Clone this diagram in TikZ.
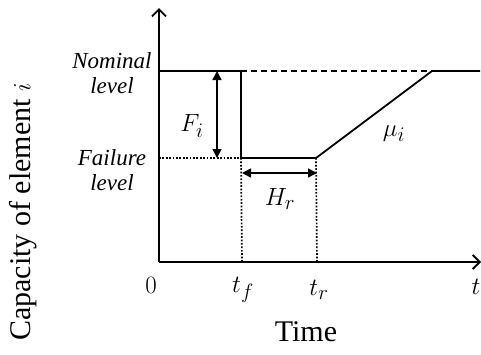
\documentclass[tikz,border=0pt]{standalone}
\usepackage{fontspec}
\setmainfont{Liberation Serif}
\usetikzlibrary{arrows.meta}
\begin{document}
\begin{tikzpicture}[x=1pt,y=-1pt,
  axis/.style={line width=1.8pt,-{Straight Barb[length=7pt,width=14pt,line width=1.8pt]}},
  curve/.style={line width=1.8pt},
  dsh/.style={line width=1.5pt,dash pattern=on 6pt off 4pt},
  dts/.style={line width=1.7pt,dash pattern=on 1.7pt off 1.7pt},
  dim/.style={line width=1.6pt,{Triangle[length=9pt,width=9pt]}-{Triangle[length=9pt,width=9pt]}},
  lvl/.style={font=\itshape\fontsize{23}{25}\selectfont,align=center},
  mlab/.style={font=\fontsize{31}{33}\selectfont},
  big/.style={font=\fontsize{30}{34}\selectfont}]
\useasboundingbox (0,0) rectangle (481,354);
\coordinate (O) at (159,262);
\coordinate (ytop) at (159,8);
\coordinate (xend) at (481,262);
\coordinate (n0) at (159,71);
\coordinate (nf) at (241,71);
\coordinate (ff) at (241,158);
\coordinate (f0) at (159,158);
\coordinate (fr) at (316,158);
\coordinate (nr) at (432,71);
\coordinate (nend) at (480,71);
\coordinate (tf) at (242,262);
\coordinate (tr) at (317,262);
\coordinate (Ftop) at (217,71);
\coordinate (Fbot) at (217,158);
\coordinate (Hl) at (242,173);
\coordinate (Hr) at (317,173);
% axes
\draw[axis] (O) -- (ytop);
\draw[axis] (O) -- (xend);
% levels
\draw[dsh] (nf) -- (nr);
\draw[dts] (f0) -- (ff);
\draw[curve,line join=miter] (n0) -- (nf) -- (ff) -- (fr) -- (nr) -- (nend);
\draw[dts] (ff) -- (tf);
\draw[dts] (fr) -- (tr);
% dimension arrows
\draw[dim] (Ftop) -- (Fbot);
\draw[dim] (Hl) -- (Hr);
% labels
\node[mlab] (Fi) at (192,126) {$F_i$};
\node[mlab] (Hrl) at (280,199) {$H_r$};
\node[mlab] (mui) at (394,134) {$\mu_i$};
\node[mlab] (zero) at (151,285) {$0$};
\node[mlab] (tfl) at (243,290) {$t_f$};
\node[mlab] (trl) at (319,290) {$t_r$};
\node[mlab] (tl) at (476,287) {$t$};
\node[lvl] (nom) at (112,73) {Nominal\\level};
\node[lvl] (fail) at (112,170) {Failure\\level};
\node[big] (time) at (306,332) {Time};
\node[big,rotate=90] (cap) at (23,212) {Capacity of element $i$};
\end{tikzpicture}
\end{document}
